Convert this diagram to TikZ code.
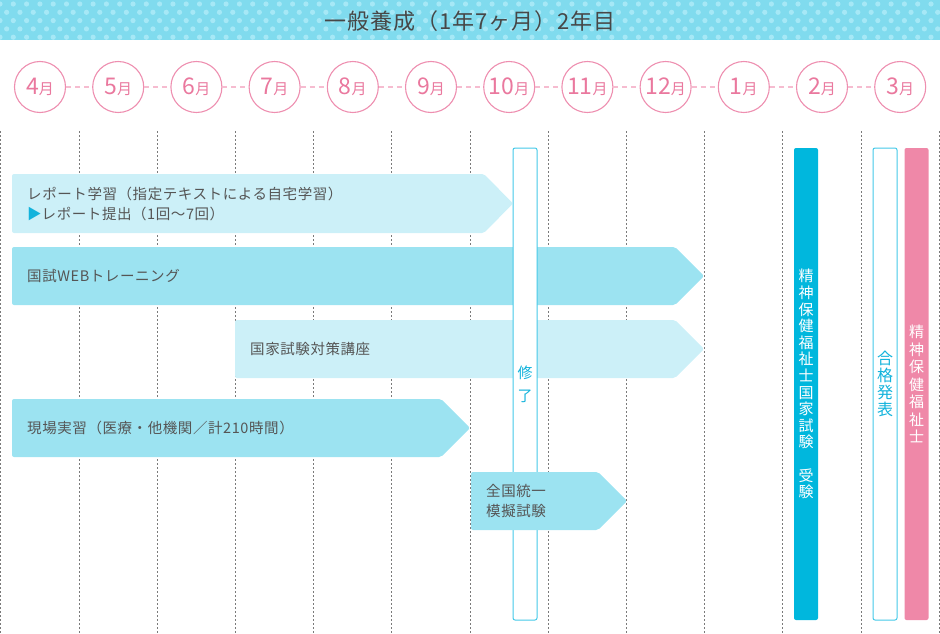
\documentclass[tikz,border=0pt]{standalone}
\usepackage{fontspec}
\setmainfont{Noto Sans CJK JP}
\newfontfamily\spacedfont[LetterSpace=4]{Noto Sans CJK JP}
\usepackage{xcolor}
\usepackage{tikz}
\usetikzlibrary{positioning}

\definecolor{headerCyan}{HTML}{80DBEE}
\definecolor{dotCyan}{HTML}{A6E8F6}
\definecolor{titleGray}{HTML}{474747}
\definecolor{monthPink}{HTML}{EE8FB0}
\definecolor{monthText}{HTML}{EA789E}
\definecolor{linkPink}{HTML}{F6BCD0}
\definecolor{gridGray}{HTML}{7A7A7A}
\definecolor{barLight}{HTML}{CCF0F8}
\definecolor{barDark}{HTML}{9CE3F1}
\definecolor{textGray}{HTML}{555555}
\definecolor{markCyan}{HTML}{12B3DC}
\definecolor{boxCyan}{HTML}{45C9E8}
\definecolor{examCyan}{HTML}{00B7DD}
\definecolor{passPink}{HTML}{EF88A8}

\newcommand{\monthlabel}[1]{#1{\fontsize{15}{15}\selectfont 月}}

\begin{document}
\begin{tikzpicture}[x=1pt,y=-1pt,
  month/.style={circle,draw=monthPink,line width=1.1pt,fill=white,inner sep=0,minimum size=51pt,text=monthText,font=\fontsize{23}{23}\selectfont},
  link/.style={draw=linkPink,line width=1.4pt,dash pattern=on 5pt off 4pt},
  gridline/.style={draw=gridGray,line width=0.9pt,dash pattern=on 2pt off 2pt},
  lightbar/.style={fill=barLight,rounded corners=2pt},
  darkbar/.style={fill=barDark,rounded corners=2pt},
  bartext/.style={anchor=west,inner sep=0,text=textGray,align=left,font=\spacedfont\fontsize{14.5}{20}\selectfont},
  column/.style={rounded corners=2pt,inner sep=0,minimum width=24pt,minimum height=472pt,align=center,font=\fontsize{15}{16.6}\selectfont}]

\useasboundingbox (0,0) rectangle (940,634);

% header band
\fill[headerCyan] (0,0) rectangle (940,40);
\begin{scope}
\clip (0,0) rectangle (940,40);
\foreach \r in {0,...,5}
  \foreach \c in {0,...,71}
    \fill[dotCyan] ({\c*13.3+mod(\r,2)*6.65},{4+\r*8.3}) circle (2.6);
\end{scope}
\node[text=titleGray,font=\spacedfont\fontsize{22}{22}\selectfont] (title) at (470,21) {一般養成（1年7ヶ月）2年目};

% month grid
\foreach \i in {0,...,12}
  \draw[gridline] ({0.8+78.2*\i},131) -- ({0.8+78.2*\i},634);

\node[month] (mApr) at (40,87)    {\monthlabel{4}};
\node[month] (mMay) at (118.2,87) {\monthlabel{5}};
\node[month] (mJun) at (196.4,87) {\monthlabel{6}};
\node[month] (mJul) at (274.6,87) {\monthlabel{7}};
\node[month] (mAug) at (352.8,87) {\monthlabel{8}};
\node[month] (mSep) at (431,87)   {\monthlabel{9}};
\node[month] (mOct) at (509.2,87) {\monthlabel{10}};
\node[month] (mNov) at (587.4,87) {\monthlabel{11}};
\node[month] (mDec) at (665.6,87) {\monthlabel{12}};
\node[month] (mJan) at (743.8,87) {\monthlabel{1}};
\node[month] (mFeb) at (822,87)   {\monthlabel{2}};
\node[month] (mMar) at (900.2,87) {\monthlabel{3}};

\foreach \a/\b in {mApr/mMay,mMay/mJun,mJun/mJul,mJul/mAug,mAug/mSep,mSep/mOct,mOct/mNov,mNov/mDec,mDec/mJan,mJan/mFeb,mFeb/mMar}
  \draw[link] (\a) -- (\b);

% phases
\fill[lightbar] (12,174) -- (484,174) -- (513,203.5) -- (484,233) -- (12,233) -- cycle;
\node[bartext] (txtReport) at (27,203.5) {レポート学習（指定テキストによる自宅学習）\\\textcolor{markCyan}{▶}レポート提出（1回～7回）};

\fill[darkbar] (12,247) -- (675,247) -- (704,276) -- (675,305) -- (12,305) -- cycle;
\node[bartext] (txtWeb) at (27,276) {国試WEBトレーニング};

\fill[lightbar] (235,320) -- (675,320) -- (704,349) -- (675,378) -- (235,378) -- cycle;
\node[bartext] (txtCourse) at (250,349) {国家試験対策講座};

\fill[darkbar] (12,399) -- (441,399) -- (470,428) -- (441,457) -- (12,457) -- cycle;
\node[bartext] (txtPractice) at (27,428) {現場実習（医療・他機関／計210時間）};

\node[column,draw=boxCyan,line width=1pt,fill=white,text=markCyan,font=\fontsize{15}{23}\selectfont] (colDone) at (525,384) {修\\了};

\fill[darkbar] (471,472) -- (598,472) -- (627,501) -- (598,530) -- (471,530) -- cycle;
\node[bartext] (txtMock) at (486,501) {全国統一\\模擬試験};

% exam and result
\node[column,fill=examCyan,text=white] (colExam) at (806,384) {精\\神\\保\\健\\福\\祉\\士\\国\\家\\試\\験\\\phantom{受}\\受\\験};
\node[column,draw=boxCyan,line width=1pt,fill=white,text=markCyan,font=\fontsize{16}{17}\selectfont] (colPass) at (885,384) {合\\格\\発\\表};
\node[column,fill=passPink,text=white,font=\fontsize{15}{17.5}\selectfont] (colTitle) at (916.5,384) {精\\神\\保\\健\\福\\祉\\士};
\end{tikzpicture}
\end{document}
